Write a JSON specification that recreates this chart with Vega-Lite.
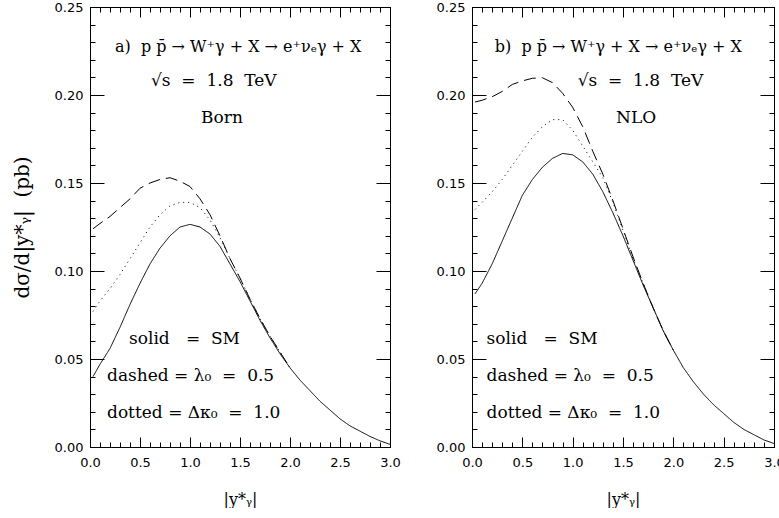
{
  "$schema": "https://vega.github.io/schema/vega-lite/v6.json",
  "background": "white",
  "padding": {"left": 11, "top": 0, "right": 0, "bottom": 0},
  "spacing": 34,
  "config": {
    "view": {"stroke": "black", "strokeWidth": 1},
    "axis": {
      "grid": false, "domainColor": "black", "tickColor": "black", "tickWidth": 1,
      "labelFont": "DejaVu Sans", "labelFontSize": 13, "labelColor": "black",
      "labelFlush": false, "labelOverlap": false, "labelBound": false,
      "titleFont": "DejaVu Serif", "titleFontSize": 16, "titleFontWeight": "normal", "titleColor": "black"
    },
    "text": {"font": "DejaVu Serif", "fontSize": 17, "color": "black", "align": "left", "baseline": "middle"}
  },
  "datasets": {
    "born": [
      {"series": "SM", "x": 0.03, "y": 0.040}, {"series": "SM", "x": 0.1, "y": 0.047}, {"series": "SM", "x": 0.2, "y": 0.056}, {"series": "SM", "x": 0.3, "y": 0.068}, {"series": "SM", "x": 0.4, "y": 0.081}, {"series": "SM", "x": 0.5, "y": 0.093}, {"series": "SM", "x": 0.6, "y": 0.104}, {"series": "SM", "x": 0.7, "y": 0.113}, {"series": "SM", "x": 0.8, "y": 0.120}, {"series": "SM", "x": 0.9, "y": 0.125}, {"series": "SM", "x": 1.0, "y": 0.1265}, {"series": "SM", "x": 1.1, "y": 0.125}, {"series": "SM", "x": 1.2, "y": 0.121}, {"series": "SM", "x": 1.3, "y": 0.114}, {"series": "SM", "x": 1.4, "y": 0.104}, {"series": "SM", "x": 1.5, "y": 0.094}, {"series": "SM", "x": 1.6, "y": 0.083}, {"series": "SM", "x": 1.7, "y": 0.072}, {"series": "SM", "x": 1.8, "y": 0.062}, {"series": "SM", "x": 1.9, "y": 0.053}, {"series": "SM", "x": 2.0, "y": 0.045}, {"series": "SM", "x": 2.1, "y": 0.038}, {"series": "SM", "x": 2.2, "y": 0.032}, {"series": "SM", "x": 2.3, "y": 0.026}, {"series": "SM", "x": 2.4, "y": 0.021}, {"series": "SM", "x": 2.5, "y": 0.016}, {"series": "SM", "x": 2.6, "y": 0.012}, {"series": "SM", "x": 2.7, "y": 0.009}, {"series": "SM", "x": 2.8, "y": 0.006}, {"series": "SM", "x": 2.9, "y": 0.0035}, {"series": "SM", "x": 3.0, "y": 0.0015},
      {"series": "lambda", "x": 0.03, "y": 0.124}, {"series": "lambda", "x": 0.1, "y": 0.127}, {"series": "lambda", "x": 0.2, "y": 0.131}, {"series": "lambda", "x": 0.3, "y": 0.136}, {"series": "lambda", "x": 0.4, "y": 0.141}, {"series": "lambda", "x": 0.5, "y": 0.147}, {"series": "lambda", "x": 0.6, "y": 0.150}, {"series": "lambda", "x": 0.7, "y": 0.152}, {"series": "lambda", "x": 0.8, "y": 0.153}, {"series": "lambda", "x": 0.9, "y": 0.151}, {"series": "lambda", "x": 1.0, "y": 0.148}, {"series": "lambda", "x": 1.1, "y": 0.141}, {"series": "lambda", "x": 1.2, "y": 0.132}, {"series": "lambda", "x": 1.3, "y": 0.120}, {"series": "lambda", "x": 1.4, "y": 0.107}, {"series": "lambda", "x": 1.5, "y": 0.096}, {"series": "lambda", "x": 1.6, "y": 0.084}, {"series": "lambda", "x": 1.7, "y": 0.073}, {"series": "lambda", "x": 1.8, "y": 0.063}, {"series": "lambda", "x": 1.9, "y": 0.054}, {"series": "lambda", "x": 2.0, "y": 0.045},
      {"series": "kappa", "x": 0.03, "y": 0.077}, {"series": "kappa", "x": 0.1, "y": 0.083}, {"series": "kappa", "x": 0.2, "y": 0.090}, {"series": "kappa", "x": 0.3, "y": 0.098}, {"series": "kappa", "x": 0.4, "y": 0.107}, {"series": "kappa", "x": 0.5, "y": 0.116}, {"series": "kappa", "x": 0.6, "y": 0.125}, {"series": "kappa", "x": 0.7, "y": 0.132}, {"series": "kappa", "x": 0.8, "y": 0.137}, {"series": "kappa", "x": 0.9, "y": 0.139}, {"series": "kappa", "x": 1.0, "y": 0.139}, {"series": "kappa", "x": 1.1, "y": 0.136}, {"series": "kappa", "x": 1.2, "y": 0.129}, {"series": "kappa", "x": 1.3, "y": 0.119}, {"series": "kappa", "x": 1.4, "y": 0.107}, {"series": "kappa", "x": 1.5, "y": 0.096}, {"series": "kappa", "x": 1.6, "y": 0.084}, {"series": "kappa", "x": 1.7, "y": 0.073}, {"series": "kappa", "x": 1.8, "y": 0.063}, {"series": "kappa", "x": 1.9, "y": 0.054}, {"series": "kappa", "x": 2.0, "y": 0.045}
    ],
    "nlo": [
      {"series": "SM", "x": 0.03, "y": 0.087}, {"series": "SM", "x": 0.1, "y": 0.093}, {"series": "SM", "x": 0.2, "y": 0.104}, {"series": "SM", "x": 0.3, "y": 0.117}, {"series": "SM", "x": 0.4, "y": 0.130}, {"series": "SM", "x": 0.5, "y": 0.143}, {"series": "SM", "x": 0.6, "y": 0.152}, {"series": "SM", "x": 0.7, "y": 0.159}, {"series": "SM", "x": 0.8, "y": 0.164}, {"series": "SM", "x": 0.9, "y": 0.1668}, {"series": "SM", "x": 1.0, "y": 0.166}, {"series": "SM", "x": 1.1, "y": 0.162}, {"series": "SM", "x": 1.2, "y": 0.155}, {"series": "SM", "x": 1.3, "y": 0.145}, {"series": "SM", "x": 1.4, "y": 0.133}, {"series": "SM", "x": 1.5, "y": 0.120}, {"series": "SM", "x": 1.6, "y": 0.106}, {"series": "SM", "x": 1.7, "y": 0.092}, {"series": "SM", "x": 1.8, "y": 0.079}, {"series": "SM", "x": 1.9, "y": 0.066}, {"series": "SM", "x": 2.0, "y": 0.055}, {"series": "SM", "x": 2.1, "y": 0.045}, {"series": "SM", "x": 2.2, "y": 0.037}, {"series": "SM", "x": 2.3, "y": 0.030}, {"series": "SM", "x": 2.4, "y": 0.024}, {"series": "SM", "x": 2.5, "y": 0.019}, {"series": "SM", "x": 2.6, "y": 0.014}, {"series": "SM", "x": 2.7, "y": 0.010}, {"series": "SM", "x": 2.8, "y": 0.007}, {"series": "SM", "x": 2.9, "y": 0.004}, {"series": "SM", "x": 3.0, "y": 0.002},
      {"series": "lambda", "x": 0.03, "y": 0.196}, {"series": "lambda", "x": 0.1, "y": 0.197}, {"series": "lambda", "x": 0.2, "y": 0.199}, {"series": "lambda", "x": 0.3, "y": 0.202}, {"series": "lambda", "x": 0.4, "y": 0.206}, {"series": "lambda", "x": 0.5, "y": 0.208}, {"series": "lambda", "x": 0.6, "y": 0.2095}, {"series": "lambda", "x": 0.7, "y": 0.2098}, {"series": "lambda", "x": 0.8, "y": 0.207}, {"series": "lambda", "x": 0.9, "y": 0.201}, {"series": "lambda", "x": 1.0, "y": 0.193}, {"series": "lambda", "x": 1.1, "y": 0.182}, {"series": "lambda", "x": 1.2, "y": 0.168}, {"series": "lambda", "x": 1.3, "y": 0.155}, {"series": "lambda", "x": 1.4, "y": 0.140}, {"series": "lambda", "x": 1.5, "y": 0.124}, {"series": "lambda", "x": 1.6, "y": 0.108}, {"series": "lambda", "x": 1.7, "y": 0.093}, {"series": "lambda", "x": 1.8, "y": 0.079}, {"series": "lambda", "x": 1.9, "y": 0.066}, {"series": "lambda", "x": 2.0, "y": 0.055},
      {"series": "kappa", "x": 0.03, "y": 0.135}, {"series": "kappa", "x": 0.1, "y": 0.139}, {"series": "kappa", "x": 0.2, "y": 0.145}, {"series": "kappa", "x": 0.3, "y": 0.152}, {"series": "kappa", "x": 0.4, "y": 0.160}, {"series": "kappa", "x": 0.5, "y": 0.168}, {"series": "kappa", "x": 0.6, "y": 0.176}, {"series": "kappa", "x": 0.7, "y": 0.182}, {"series": "kappa", "x": 0.8, "y": 0.186}, {"series": "kappa", "x": 0.9, "y": 0.186}, {"series": "kappa", "x": 1.0, "y": 0.180}, {"series": "kappa", "x": 1.1, "y": 0.171}, {"series": "kappa", "x": 1.2, "y": 0.162}, {"series": "kappa", "x": 1.3, "y": 0.153}, {"series": "kappa", "x": 1.4, "y": 0.139}, {"series": "kappa", "x": 1.5, "y": 0.123}, {"series": "kappa", "x": 1.6, "y": 0.107}, {"series": "kappa", "x": 1.7, "y": 0.093}, {"series": "kappa", "x": 1.8, "y": 0.079}, {"series": "kappa", "x": 1.9, "y": 0.066}, {"series": "kappa", "x": 2.0, "y": 0.055}
    ]
  },
  "hconcat": [
    {
      "width": 300, "height": 440,
      "layer": [
        {
          "layer": [
            {
              "data": {"name": "born"},
              "mark": {"type": "line", "color": "black", "strokeWidth": 1},
              "encoding": {
                "x": {"field": "x", "type": "quantitative", "title": "|y*ᵧ|",
                  "scale": {"domain": [0, 3], "nice": false, "zero": false},
                  "axis": {"orient": "bottom", "values": [0, 0.5, 1, 1.5, 2, 2.5, 3], "format": ".1f",
                    "tickSize": -10, "labelPadding": 19, "titlePadding": 22}},
                "y": {"field": "y", "type": "quantitative", "title": "dσ/d|y*ᵧ|\u00a0\u00a0(pb)",
                  "scale": {"domain": [0, 0.25], "nice": false, "zero": false},
                  "axis": {"orient": "left", "values": [0, 0.05, 0.1, 0.15, 0.2, 0.25], "format": ".2f",
                    "tickSize": -14, "labelPadding": 21, "titlePadding": 22, "titleFontSize": 20}},
                "strokeDash": {"field": "series", "type": "nominal", "legend": null,
                  "scale": {"domain": ["SM", "lambda", "kappa"], "range": [[1, 0], [12, 6], [1, 4]]}}
              }
            },
            {"data": {"values": [{}]}, "mark": {"type": "text", "text": "a)\u00a0\u00a0p\u00a0p̄\u00a0→\u00a0W⁺γ\u00a0+\u00a0X\u00a0→\u00a0e⁺νₑγ\u00a0+\u00a0X", "fontSize": 16},
             "encoding": {"x": {"datum": 0.25, "type": "quantitative"}, "y": {"datum": 0.227, "type": "quantitative"}}},
            {"data": {"values": [{}]}, "mark": {"type": "text", "text": "√s\u00a0\u00a0=\u00a0\u00a01.8\u00a0\u00a0TeV"},
             "encoding": {"x": {"datum": 0.61, "type": "quantitative"}, "y": {"datum": 0.208, "type": "quantitative"}}},
            {"data": {"values": [{}]}, "mark": {"type": "text", "text": "Born", "align": "center"},
             "encoding": {"x": {"datum": 1.32, "type": "quantitative"}, "y": {"datum": 0.187, "type": "quantitative"}}},
            {"data": {"values": [{}]}, "mark": {"type": "text", "text": "solid\u00a0\u00a0\u00a0=\u00a0\u00a0SM"},
             "encoding": {"x": {"datum": 0.39, "type": "quantitative"}, "y": {"datum": 0.0613, "type": "quantitative"}}},
            {"data": {"values": [{}]}, "mark": {"type": "text", "text": "dashed\u00a0=\u00a0λ₀\u00a0\u00a0=\u00a0\u00a00.5"},
             "encoding": {"x": {"datum": 0.17, "type": "quantitative"}, "y": {"datum": 0.0404, "type": "quantitative"}}},
            {"data": {"values": [{}]}, "mark": {"type": "text", "text": "dotted\u00a0=\u00a0Δκ₀\u00a0\u00a0=\u00a0\u00a01.0"},
             "encoding": {"x": {"datum": 0.17, "type": "quantitative"}, "y": {"datum": 0.0195, "type": "quantitative"}}}
          ]
        },
        {
          "data": {"values": [{}]},
          "mark": {"type": "point", "opacity": 0},
          "encoding": {
            "x": {"datum": 0, "type": "quantitative", "scale": {"domain": [0, 3], "nice": false, "zero": false},
              "axis": {"orient": "bottom", "labels": false, "title": null, "tickSize": -5, "values": [0.1,0.2,0.3,0.4,0.6,0.7,0.8,0.9,1.1,1.2,1.3,1.4,1.6,1.7,1.8,1.9,2.1,2.2,2.3,2.4,2.6,2.7,2.8,2.9]}},
            "y": {"datum": 0, "type": "quantitative", "scale": {"domain": [0, 0.25], "nice": false, "zero": false},
              "axis": {"orient": "left", "labels": false, "title": null, "tickSize": -5, "values": [0.01,0.02,0.03,0.04,0.06,0.07,0.08,0.09,0.11,0.12,0.13,0.14,0.16,0.17,0.18,0.19,0.21,0.22,0.23,0.24]}}
          }
        },
        {
          "data": {"values": [{}]},
          "mark": {"type": "point", "opacity": 0},
          "encoding": {
            "x": {"datum": 0, "type": "quantitative", "scale": {"domain": [0, 3], "nice": false, "zero": false},
              "axis": {"orient": "top", "labels": false, "title": null, "tickSize": -10, "values": [0, 0.5, 1, 1.5, 2, 2.5, 3]}},
            "y": {"datum": 0, "type": "quantitative", "scale": {"domain": [0, 0.25], "nice": false, "zero": false},
              "axis": {"orient": "right", "labels": false, "title": null, "tickSize": -14, "values": [0, 0.05, 0.1, 0.15, 0.2, 0.25]}}
          }
        },
        {
          "data": {"values": [{}]},
          "mark": {"type": "point", "opacity": 0},
          "encoding": {
            "x": {"datum": 0, "type": "quantitative", "scale": {"domain": [0, 3], "nice": false, "zero": false},
              "axis": {"orient": "top", "labels": false, "title": null, "tickSize": -5, "values": [0.1,0.2,0.3,0.4,0.6,0.7,0.8,0.9,1.1,1.2,1.3,1.4,1.6,1.7,1.8,1.9,2.1,2.2,2.3,2.4,2.6,2.7,2.8,2.9]}},
            "y": {"datum": 0, "type": "quantitative", "scale": {"domain": [0, 0.25], "nice": false, "zero": false},
              "axis": {"orient": "right", "labels": false, "title": null, "tickSize": -5, "values": [0.01,0.02,0.03,0.04,0.06,0.07,0.08,0.09,0.11,0.12,0.13,0.14,0.16,0.17,0.18,0.19,0.21,0.22,0.23,0.24]}}
          }
        }
      ],
      "resolve": {"scale": {"x": "independent", "y": "independent"}}
    },
    {
      "width": 302, "height": 440,
      "layer": [
        {
          "layer": [
            {
              "data": {"name": "nlo"},
              "mark": {"type": "line", "color": "black", "strokeWidth": 1},
              "encoding": {
                "x": {"field": "x", "type": "quantitative", "title": "|y*ᵧ|",
                  "scale": {"domain": [0, 3], "nice": false, "zero": false},
                  "axis": {"orient": "bottom", "values": [0, 0.5, 1, 1.5, 2, 2.5, 3], "format": ".1f",
                    "tickSize": -10, "labelPadding": 19, "titlePadding": 22}},
                "y": {"field": "y", "type": "quantitative", "title": null,
                  "scale": {"domain": [0, 0.25], "nice": false, "zero": false},
                  "axis": {"orient": "left", "values": [0, 0.05, 0.1, 0.15, 0.2, 0.25], "format": ".2f",
                    "tickSize": -14, "labelPadding": 21}},
                "strokeDash": {"field": "series", "type": "nominal", "legend": null,
                  "scale": {"domain": ["SM", "lambda", "kappa"], "range": [[1, 0], [12, 6], [1, 4]]}}
              }
            },
            {"data": {"values": [{}]}, "mark": {"type": "text", "text": "b)\u00a0\u00a0p\u00a0p̄\u00a0→\u00a0W⁺γ\u00a0+\u00a0X\u00a0→\u00a0e⁺νₑγ\u00a0+\u00a0X", "fontSize": 16},
             "encoding": {"x": {"datum": 0.226, "type": "quantitative"}, "y": {"datum": 0.227, "type": "quantitative"}}},
            {"data": {"values": [{}]}, "mark": {"type": "text", "text": "√s\u00a0\u00a0=\u00a0\u00a01.8\u00a0\u00a0TeV"},
             "encoding": {"x": {"datum": 1.05, "type": "quantitative"}, "y": {"datum": 0.208, "type": "quantitative"}}},
            {"data": {"values": [{}]}, "mark": {"type": "text", "text": "NLO", "align": "center"},
             "encoding": {"x": {"datum": 1.63, "type": "quantitative"}, "y": {"datum": 0.187, "type": "quantitative"}}},
            {"data": {"values": [{}]}, "mark": {"type": "text", "text": "solid\u00a0\u00a0\u00a0=\u00a0\u00a0SM"},
             "encoding": {"x": {"datum": 0.145, "type": "quantitative"}, "y": {"datum": 0.0613, "type": "quantitative"}}},
            {"data": {"values": [{}]}, "mark": {"type": "text", "text": "dashed\u00a0=\u00a0λ₀\u00a0\u00a0=\u00a0\u00a00.5"},
             "encoding": {"x": {"datum": 0.145, "type": "quantitative"}, "y": {"datum": 0.0404, "type": "quantitative"}}},
            {"data": {"values": [{}]}, "mark": {"type": "text", "text": "dotted\u00a0=\u00a0Δκ₀\u00a0\u00a0=\u00a0\u00a01.0"},
             "encoding": {"x": {"datum": 0.145, "type": "quantitative"}, "y": {"datum": 0.0195, "type": "quantitative"}}}
          ]
        },
        {
          "data": {"values": [{}]},
          "mark": {"type": "point", "opacity": 0},
          "encoding": {
            "x": {"datum": 0, "type": "quantitative", "scale": {"domain": [0, 3], "nice": false, "zero": false},
              "axis": {"orient": "bottom", "labels": false, "title": null, "tickSize": -5, "values": [0.1,0.2,0.3,0.4,0.6,0.7,0.8,0.9,1.1,1.2,1.3,1.4,1.6,1.7,1.8,1.9,2.1,2.2,2.3,2.4,2.6,2.7,2.8,2.9]}},
            "y": {"datum": 0, "type": "quantitative", "scale": {"domain": [0, 0.25], "nice": false, "zero": false},
              "axis": {"orient": "left", "labels": false, "title": null, "tickSize": -5, "values": [0.01,0.02,0.03,0.04,0.06,0.07,0.08,0.09,0.11,0.12,0.13,0.14,0.16,0.17,0.18,0.19,0.21,0.22,0.23,0.24]}}
          }
        },
        {
          "data": {"values": [{}]},
          "mark": {"type": "point", "opacity": 0},
          "encoding": {
            "x": {"datum": 0, "type": "quantitative", "scale": {"domain": [0, 3], "nice": false, "zero": false},
              "axis": {"orient": "top", "labels": false, "title": null, "tickSize": -10, "values": [0, 0.5, 1, 1.5, 2, 2.5, 3]}},
            "y": {"datum": 0, "type": "quantitative", "scale": {"domain": [0, 0.25], "nice": false, "zero": false},
              "axis": {"orient": "right", "labels": false, "title": null, "tickSize": -14, "values": [0, 0.05, 0.1, 0.15, 0.2, 0.25]}}
          }
        },
        {
          "data": {"values": [{}]},
          "mark": {"type": "point", "opacity": 0},
          "encoding": {
            "x": {"datum": 0, "type": "quantitative", "scale": {"domain": [0, 3], "nice": false, "zero": false},
              "axis": {"orient": "top", "labels": false, "title": null, "tickSize": -5, "values": [0.1,0.2,0.3,0.4,0.6,0.7,0.8,0.9,1.1,1.2,1.3,1.4,1.6,1.7,1.8,1.9,2.1,2.2,2.3,2.4,2.6,2.7,2.8,2.9]}},
            "y": {"datum": 0, "type": "quantitative", "scale": {"domain": [0, 0.25], "nice": false, "zero": false},
              "axis": {"orient": "right", "labels": false, "title": null, "tickSize": -5, "values": [0.01,0.02,0.03,0.04,0.06,0.07,0.08,0.09,0.11,0.12,0.13,0.14,0.16,0.17,0.18,0.19,0.21,0.22,0.23,0.24]}}
          }
        }
      ],
      "resolve": {"scale": {"x": "independent", "y": "independent"}}
    }
  ]
}
